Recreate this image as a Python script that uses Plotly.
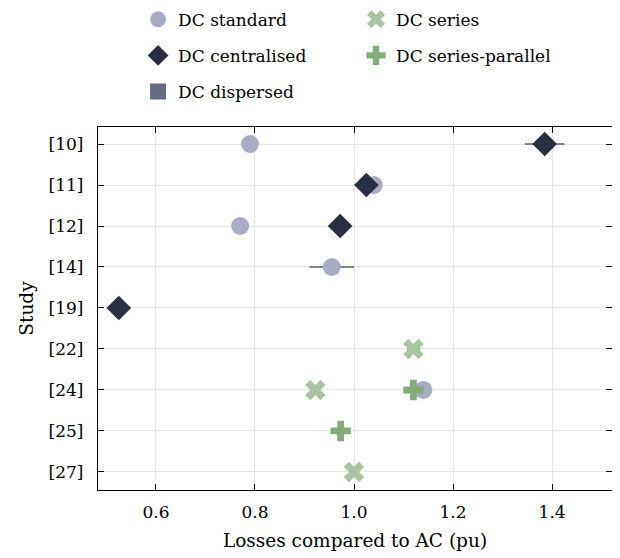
import plotly.graph_objects as go

studies = ["[10]", "[11]", "[12]", "[14]", "[19]", "[22]", "[24]", "[25]", "[27]"]

std_study = ["[10]", "[11]", "[12]", "[14]", "[24]"]
std_val = [0.79, 1.04, 0.77, 0.955, 1.14]
std_err = [0, 0, 0, 0.045, 0]

cen_study = ["[10]", "[11]", "[12]", "[19]"]
cen_val = [1.385, 1.025, 0.972, 0.525]
cen_err = [0.04, 0, 0, 0]

dis_study = []
dis_val = []

ser_study = ["[22]", "[24]", "[27]"]
ser_val = [1.12, 0.922, 1.0]
ser_err = [0.013, 0, 0]

sp_study = ["[24]", "[25]"]
sp_val = [1.12, 0.973]

FONT = "DejaVu Serif"
ERRC = "#5d6275"

fig = go.Figure()

def err(vals):
    return dict(type="data", array=vals, color=ERRC, thickness=1.3, width=0, visible=True)

fig.add_trace(go.Scatter(x=std_val, y=std_study, mode="markers", name="DC standard",
                         marker=dict(symbol="circle", size=18, color="#a8adc3"),
                         error_x=err(std_err), legend="legend", legendgroup="a"))
fig.add_trace(go.Scatter(x=cen_val, y=cen_study, mode="markers", name="DC centralised",
                         marker=dict(symbol="diamond", size=19, color="#2a3042"),
                         error_x=err(cen_err), legend="legend", legendgroup="b"))
fig.add_trace(go.Scatter(x=dis_val if dis_val else [None], y=dis_study if dis_study else [None],
                         mode="markers", name="DC dispersed",
                         marker=dict(symbol="square", size=16, color="#656b80"),
                         legend="legend", legendgroup="c"))
fig.add_trace(go.Scatter(x=ser_val, y=ser_study, mode="markers", name="DC series",
                         marker=dict(symbol="x", size=18, color="#a9c4a3"),
                         error_x=err(ser_err), legend="legend2", legendgroup="d"))
fig.add_trace(go.Scatter(x=sp_val, y=sp_study, mode="markers", name="DC series-parallel",
                         marker=dict(symbol="cross", size=17, color="#82ad7a"),
                         legend="legend2", legendgroup="e"))

legend_common = dict(font=dict(family=FONT, size=17, color="black"),
                     bgcolor="rgba(0,0,0,0)", tracegroupgap=11,
                     yanchor="top", xanchor="left", itemwidth=30)

# plot area (figure coords): x 90..604, y 119..482
fig.update_layout(
    width=620, height=558,
    margin=dict(l=90, r=16, t=119, b=76, autoexpand=False),
    plot_bgcolor="white", paper_bgcolor="white",
    font=dict(family=FONT, size=17, color="black"),
    showlegend=True,
    legend=dict(x=0.078, y=1.345, **legend_common),
    legend2=dict(x=0.502, y=1.345, **legend_common),
    xaxis=dict(range=[0.483, 1.521], tickvals=[0.6, 0.8, 1.0, 1.2, 1.4],
               ticktext=["0.6", "0.8", "1.0", "1.2", "1.4"],
               ticks="inside", ticklen=6, tickcolor="black", tickwidth=1.3,
               showline=True, linecolor="black", linewidth=1.3, mirror="ticks",
               showgrid=True, gridcolor="#e6e6e6", gridwidth=1.3, zeroline=False,
               ticklabelstandoff=6,
               title=dict(text="Losses compared to AC (pu)", font=dict(size=18.5), standoff=13),
               tickfont=dict(size=17)),
    yaxis=dict(categoryorder="array", categoryarray=studies,
               range=[8.44, -0.415], type="category",
               ticks="inside", ticklen=6, tickcolor="black", tickwidth=1.3,
               showline=True, linecolor="black", linewidth=1.3, mirror="ticks",
               showgrid=True, gridcolor="#e6e6e6", gridwidth=1.3, zeroline=False,
               ticklabelstandoff=10,
               title=dict(text="Study", font=dict(size=18.5), standoff=10),
               tickfont=dict(size=17)),
)

fig.write_html("out.html")
